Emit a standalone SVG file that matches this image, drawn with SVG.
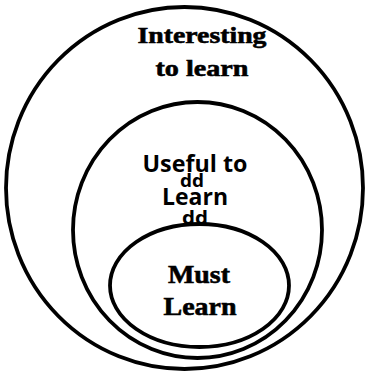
<svg xmlns="http://www.w3.org/2000/svg" width="366" height="374" viewBox="0 0 366 374">
<style>
.ring{fill:none;stroke:#000;stroke-width:3.8}
.serif{font-family:"Liberation Serif","Times New Roman",serif;font-weight:bold;fill:#000;stroke:#000;stroke-width:0.6;text-anchor:middle}
.sans{font-family:"Open Sans","Liberation Sans",sans-serif;font-weight:bold;fill:#000;text-anchor:middle}
</style>
<rect width="366" height="374" fill="#fff"/>
<g id="interesting">
<ellipse class="ring" cx="184.5" cy="188" rx="178.5" ry="181"/>
<text class="serif" x="202" y="43" font-size="24" textLength="129" lengthAdjust="spacingAndGlyphs">Interesting</text>
<text class="serif" x="202" y="76" font-size="24" textLength="93" lengthAdjust="spacingAndGlyphs">to learn</text>
</g>
<g id="useful">
<ellipse class="ring" cx="197.5" cy="230" rx="124.5" ry="128"/>
<text class="sans" x="195" y="172" font-size="23" textLength="105" lengthAdjust="spacingAndGlyphs">Useful to</text>
<text class="sans" x="192" y="187" font-size="18" textLength="24" lengthAdjust="spacingAndGlyphs">dd</text>
<text class="sans" x="195" y="205" font-size="23" textLength="66" lengthAdjust="spacingAndGlyphs">Learn</text>
<text class="sans" x="195" y="224" font-size="18" textLength="26" lengthAdjust="spacingAndGlyphs">dd</text>
</g>
<g id="must">
<ellipse class="ring" cx="199.5" cy="285.5" rx="89.5" ry="61.5" fill="#fff"/>
<text class="serif" x="199" y="283" font-size="26" textLength="62" lengthAdjust="spacingAndGlyphs">Must</text>
<text class="serif" x="200" y="315" font-size="26" textLength="73" lengthAdjust="spacingAndGlyphs">Learn</text>
</g>
<g id="connectors"/>
</svg>
